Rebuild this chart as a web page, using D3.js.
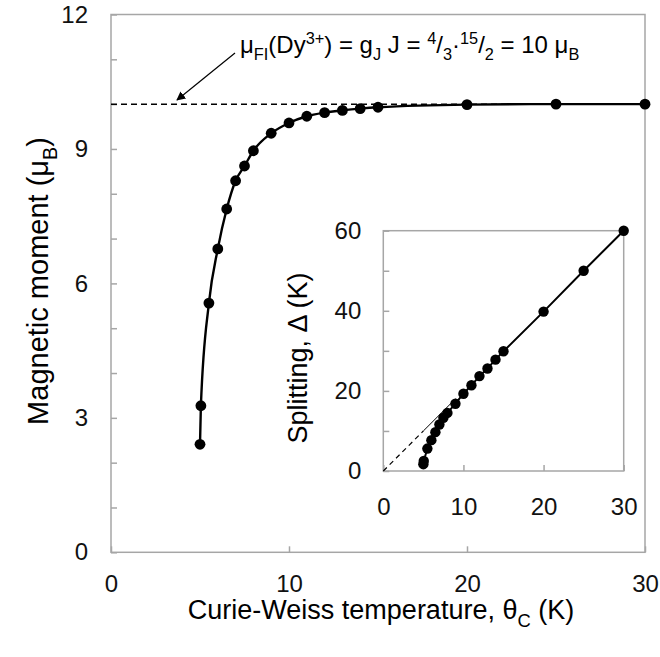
<!DOCTYPE html>
<html>
<head>
<meta charset="utf-8">
<script src="https://cdnjs.cloudflare.com/ajax/libs/d3/7.8.5/d3.min.js"></script>
<style>
  body { margin: 0; background: #fff; }
  svg { font-family: 'Liberation Sans', Arial, sans-serif; }
  .frame { fill: none; stroke: #a6a6a6; stroke-width: 1.5; }
  .axis path { display: none; }
  .axis line { stroke: #a6a6a6; stroke-width: 1.5; }
  .axis text { fill: #111; }
</style>
</head>
<body>
<svg id="chart" width="660" height="657"></svg>
<script>
// Curie-Weiss temperature values (K)
var thetaC = [5.0, 5.05, 5.5, 6.0, 6.5, 7.0, 7.5, 8.0, 9, 10, 11, 12, 13, 14, 15, 20, 25, 30];
// Magnetic moment (mu_B)
var moment = [2.41, 3.27, 5.56, 6.77, 7.66, 8.29, 8.62, 8.96, 9.35, 9.58, 9.73, 9.81, 9.86, 9.90, 9.93, 9.99, 10.0, 10.0];
// Inset: splitting Delta (K)
var splitting = [1.7, 2.5, 5.6, 7.7, 9.7, 11.6, 13.3, 14.5, 16.8, 19.3, 21.4, 23.7, 25.6, 27.8, 29.9, 39.8, 50, 60];

// free ion limit and Delta = 2 theta guide
var freeIon = [[0, 10], [30, 10]];
var guideDash = [[0, 0], [5, 10]];
var guideSolid = [[5, 10], [9, 18]];

var mainXTicks = [0, 10, 20, 30];
var mainYTicks = [0, 1, 2, 3, 4, 5, 6, 7, 8, 9, 10, 11, 12];
var insetXTicks = [0, 10, 20, 30];
var insetYTicks = [0, 10, 20, 30, 40, 50, 60];

var svg = d3.select('#chart');

// ---- main panel
var main = { left: 111, right: 645, top: 14.5, bottom: 552.3 };

var x = d3.scaleLinear().domain([0, 30]).range([main.left, main.right]);
var y = d3.scaleLinear().domain([0, 12]).range([main.bottom, main.top]);

svg.append('rect')
  .attr('class', 'frame')
  .attr('x', main.left)
  .attr('y', main.top)
  .attr('width', main.right - main.left)
  .attr('height', main.bottom - main.top);

svg.append('g')
  .attr('class', 'axis')
  .attr('transform', 'translate(' + main.left + ',0)')
  .call(d3.axisLeft(y)
    .tickValues(mainYTicks)
    .tickSizeInner(-6)
    .tickSizeOuter(0)
    .tickPadding(23)
    .tickFormat(function(d) { return d % 3 === 0 ? d : ''; }))
  .selectAll('text')
  .style('font-size', '24px')
  .style('font-family', 'Liberation Sans, Arial, sans-serif');

svg.append('g')
  .attr('class', 'axis')
  .attr('transform', 'translate(0,' + main.bottom + ')')
  .call(d3.axisBottom(x)
    .tickValues(mainXTicks)
    .tickSizeInner(-6)
    .tickSizeOuter(0)
    .tickPadding(23))
  .selectAll('text')
  .style('font-size', '24px')
  .style('font-family', 'Liberation Sans, Arial, sans-serif');

var line = function(sx, sy) {
  return d3.line()
    .x(function(d) { return sx(d[0]); })
    .y(function(d) { return sy(d[1]); });
};

svg.append('path')
  .datum(freeIon)
  .attr('d', line(x, y))
  .attr('fill', 'none')
  .attr('stroke', '#000')
  .attr('stroke-width', 1.5)
  .attr('stroke-dasharray', '6,4');

var mainPts = thetaC.map(function(t, i) { return [t, moment[i]]; });

svg.append('path')
  .datum(mainPts)
  .attr('d', line(x, y).curve(d3.curveMonotoneX))
  .attr('fill', 'none')
  .attr('stroke', '#000')
  .attr('stroke-width', 2.4);

svg.append('g')
  .selectAll('circle')
  .data(mainPts)
  .enter()
  .append('circle')
  .attr('cx', function(d) { return x(d[0]); })
  .attr('cy', function(d) { return y(d[1]); })
  .attr('r', 5.4)
  .attr('fill', '#000');

// annotation with sub/superscripts
function richText(g, parts, size) {
  var t = g.append('text').style('font-size', size + 'px');
  var shift = 0;
  parts.forEach(function(p) {
    var target = p[1] === 'sub' ? 0.3 * size : p[1] === 'sup' ? -0.38 * size : 0;
    t.append('tspan')
      .attr('dy', target - shift)
      .style('font-size', p[1] ? (0.68 * size) + 'px' : null)
      .text(p[0]);
    shift = target;
  });
  return t;
}

var note = svg.append('g').attr('transform', 'translate(240,53)');
richText(note, [
  ['\u03bc'], ['FI', 'sub'], ['(Dy'], ['3+', 'sup'], [') = g'], ['J', 'sub'],
  [' J = '], ['4', 'sup'], ['/'], ['3', 'sub'], ['\u00b7'], ['15', 'sup'], ['/'], ['2', 'sub'],
  [' = 10 \u03bc'], ['B', 'sub']
], 24);

svg.append('defs').append('marker')
  .attr('id', 'arrow')
  .attr('viewBox', '0 0 10 10')
  .attr('refX', 9)
  .attr('refY', 5)
  .attr('markerWidth', 9)
  .attr('markerHeight', 9)
  .attr('markerUnits', 'userSpaceOnUse')
  .attr('orient', 'auto')
  .append('path')
  .attr('d', 'M0,0 L10,5 L0,10 z')
  .attr('fill', '#000');

svg.append('line')
  .attr('x1', 235).attr('y1', 53)
  .attr('x2', 177).attr('y2', 100)
  .attr('stroke', '#000')
  .attr('stroke-width', 1.2)
  .attr('marker-end', 'url(#arrow)');

// axis titles
var yTitle = svg.append('g').attr('transform', 'translate(48,281) rotate(-90)');
richText(yTitle, [['Magnetic moment ('], ['\u03bc'], ['B', 'sub'], [')']], 29)
  .attr('text-anchor', 'middle');

var xTitle = svg.append('g').attr('transform', 'translate(381,619)');
richText(xTitle, [['Curie-Weiss temperature, \u03b8'], ['C', 'sub'], [' (K)']], 27)
  .attr('text-anchor', 'middle');

// ---- inset
var ins = { left: 383.3, right: 623.7, top: 230.7, bottom: 471 };
var ix = d3.scaleLinear().domain([0, 30]).range([ins.left, ins.right]);
var iy = d3.scaleLinear().domain([0, 60]).range([ins.bottom, ins.top]);

svg.append('rect')
  .attr('x', ins.left)
  .attr('y', ins.top)
  .attr('width', ins.right - ins.left)
  .attr('height', ins.bottom - ins.top)
  .attr('class', 'frame')
  .style('fill', '#fff');

svg.append('g')
  .attr('class', 'axis')
  .attr('transform', 'translate(' + ins.left + ',0)')
  .call(d3.axisLeft(iy)
    .tickValues(insetYTicks)
    .tickSizeInner(-6)
    .tickSizeOuter(0)
    .tickPadding(22)
    .tickFormat(function(d) { return d % 20 === 0 ? d : ''; }))
  .selectAll('text')
  .style('font-size', '24px')
  .style('font-family', 'Liberation Sans, Arial, sans-serif');

svg.append('g')
  .attr('class', 'axis')
  .attr('transform', 'translate(0,' + ins.bottom + ')')
  .call(d3.axisBottom(ix)
    .tickValues(insetXTicks)
    .tickSizeInner(-6)
    .tickSizeOuter(0)
    .tickPadding(27))
  .selectAll('text')
  .style('font-size', '24px')
  .style('font-family', 'Liberation Sans, Arial, sans-serif');

svg.append('path')
  .datum(guideDash)
  .attr('d', line(ix, iy))
  .attr('fill', 'none')
  .attr('stroke', '#000')
  .attr('stroke-width', 1.2)
  .attr('stroke-dasharray', '5,4');

svg.append('path')
  .datum(guideSolid)
  .attr('d', line(ix, iy))
  .attr('fill', 'none')
  .attr('stroke', '#000')
  .attr('stroke-width', 1);

var insetPts = thetaC.map(function(t, i) { return [t, splitting[i]]; });

svg.append('path')
  .datum(insetPts)
  .attr('d', line(ix, iy))
  .attr('fill', 'none')
  .attr('stroke', '#000')
  .attr('stroke-width', 2);

svg.append('g')
  .selectAll('circle')
  .data(insetPts)
  .enter()
  .append('circle')
  .attr('cx', function(d) { return ix(d[0]); })
  .attr('cy', function(d) { return iy(d[1]); })
  .attr('r', 5.2)
  .attr('fill', '#000');

var iTitle = svg.append('g').attr('transform', 'translate(307,358) rotate(-90)');
richText(iTitle, [['Splitting, \u0394 (K)']], 27)
  .attr('text-anchor', 'middle');
</script>
</body>
</html>
